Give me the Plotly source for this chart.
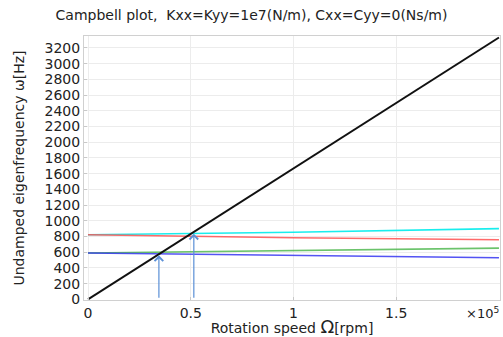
import plotly.graph_objects as go

# Data (rotation speed in rpm, eigenfrequencies in Hz)
speed_rpm = [0, 100000, 200000]
mode_cyan = [823, 855, 900]
mode_red = [823, 785, 758]
mode_green = [590, 620, 652]
mode_blue = [590, 556, 530]
excitation_speed = [0, 200000]
excitation_freq = [0, 3333.3]

arrow_x = [34500, 51500]
arrow_tip = [560, 835]

x_tickvals = [0, 50000, 100000, 150000]
x_ticktext = ["0", "0.5", "1", "1.5"]
y_tickvals = list(range(0, 3201, 200))

FONT = "DejaVu Sans"

fig = go.Figure()
series = [
    (mode_cyan, "rgba(0,235,235,0.9)"),
    (mode_red, "rgba(255,80,80,0.85)"),
    (mode_green, "rgba(70,180,70,0.8)"),
    (mode_blue, "rgba(40,40,240,0.8)"),
]
for vals, col in series:
    fig.add_trace(go.Scatter(x=speed_rpm, y=vals, mode="lines",
                             line=dict(color=col, width=1.6), showlegend=False))
fig.add_trace(go.Scatter(x=excitation_speed, y=excitation_freq, mode="lines",
                         line=dict(color="#111111", width=2), showlegend=False))

for xa, tip in zip(arrow_x, arrow_tip):
    fig.add_annotation(x=xa, y=tip, ax=xa, ay=0, xref="x", yref="y",
                       axref="x", ayref="y", showarrow=True, text="",
                       arrowhead=4, arrowsize=1.4, arrowwidth=1.2,
                       arrowcolor="#5b8fd6")

fig.add_annotation(text="×10<sup>5</sup>", x=1.0, y=0, xref="paper", yref="paper",
                   xanchor="right", yanchor="top", yshift=-3, xshift=1,
                   showarrow=False, font=dict(family=FONT, size=13, color="#222"))

axis_common = dict(showline=True, linecolor="#d0d0d0", linewidth=1, mirror=True,
                   showgrid=True, gridcolor="#ececec", gridwidth=1,
                   zeroline=False, ticks="inside", ticklen=3, tickcolor="#c8c8c8",
                   tickfont=dict(family=FONT, size=14, color="#222"))

fig.update_xaxes(range=[-1950, 200500], tickvals=x_tickvals, ticktext=x_ticktext,
                 title=dict(text="Rotation speed <span style='font-size:18px'>Ω</span>[rpm]",
                            font=dict(family=FONT, size=14, color="#222"),
                            standoff=0),
                 **axis_common)
fig.update_yaxes(range=[-8, 3352], tickvals=y_tickvals,
                 title=dict(text="Undamped eigenfrequency ω[Hz]",
                            font=dict(family=FONT, size=14, color="#222"),
                            standoff=16),
                 **axis_common)

H = 337
fig.update_layout(
    width=503, height=H,
    margin=dict(l=84, r=3, t=36, b=37),
    plot_bgcolor="white", paper_bgcolor="white",
    title=dict(text="Campbell plot,&nbsp; Kxx=Kyy=1e7(N/m), Cxx=Cyy=0(Ns/m)",
               x=0.5, xanchor="center", y=1 - 15 / H, yanchor="middle",
               font=dict(family=FONT, size=14, color="#222")),
)

fig.write_html(
    "out.html",
    config={"displayModeBar": False},
    post_script="document.body.style.margin='0';document.body.style.overflow='hidden';",
)
